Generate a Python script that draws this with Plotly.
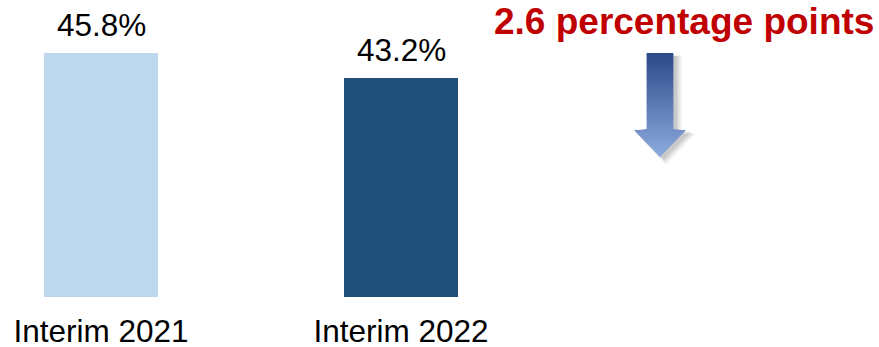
import plotly.graph_objects as go

# Data
categories = ["Interim 2021", "Interim 2022"]
values = [45.8, 43.2]
value_labels = ["45.8%", "43.2%"]
bar_colors = ["#BDD7EE", "#1F4E79"]
change_text = "2.6 percentage points"

FONT = "Liberation Sans, Arial, sans-serif"
W, H = 879, 347
M_B = 50
PLOT_H = H - M_B


def px(x):
    """Pixel x -> paper x."""
    return x / W


def py(y):
    """Pixel y (from top) -> paper y."""
    return (PLOT_H - y) / PLOT_H


fig = go.Figure(
    go.Bar(
        x=categories,
        y=values,
        marker=dict(color=bar_colors, line=dict(width=0)),
        width=0.38,
        hoverinfo="skip",
    )
)

# Value labels above the bars
annotations = []
for cat, val, lab in zip(categories, values, value_labels):
    annotations.append(dict(
        x=cat, y=val, xref="x", yref="y", text=lab, showarrow=False,
        yanchor="bottom", yshift=8,
        font=dict(family=FONT, size=31.5, color="#000000"),
    ))

# Change callout text
annotations.append(dict(
    x=px(684), y=py(0), xref="paper", yref="paper", text="<b>%s</b>" % change_text,
    showarrow=False, xanchor="center", yanchor="top", borderpad=0,
    font=dict(family=FONT, size=37, color="#C00000"),
))

# Down arrow with vertical gradient and soft shadow
cx = 660.0
top, neck, tip = 53.0, 129.0, 157.0
shaft_hw, head_hw = 13.3, 27.0


def arrow_path(dx=0.0, dy=0.0, grow=0.0):
    pts = [
        (cx - shaft_hw - grow, top - grow), (cx + shaft_hw + grow, top - grow),
        (cx + shaft_hw + grow, neck), (cx + head_hw + grow, neck),
        (cx, tip + grow), (cx - head_hw - grow, neck),
        (cx - shaft_hw - grow, neck),
    ]
    d = "M " + " L ".join("%.5f,%.5f" % (px(x + dx), py(y + dy)) for x, y in pts) + " Z"
    return d


shapes = []
for dx, dy, grow, op in [(6, 5, 2.5, 0.10), (5, 4, 1.2, 0.16), (4, 3, 0.0, 0.22)]:
    shapes.append(dict(type="path", xref="paper", yref="paper", path=arrow_path(dx, dy, grow),
                       fillcolor="#7F7F7F", opacity=op, line=dict(width=0), layer="above"))

c_top = (0x2C, 0x4A, 0x8A)
c_bot = (0x8E, 0xAB, 0xDE)


def mix(t):
    return "rgb(%d,%d,%d)" % tuple(round(a + (b - a) * t) for a, b in zip(c_top, c_bot))


def half_w(y):
    if y <= neck:
        return shaft_hw
    return head_hw * (tip - y) / (tip - neck)


# Build the arrow from thin horizontal slices so the fill can shade top to bottom
step = 1.0
y = top
while y < tip - 1e-9:
    y1 = min(y + step, tip)
    if y < neck < y1:
        y1 = neck
    y_draw = min(y1 + 0.6, tip) if y1 != neck else neck
    if y < neck:
        w0 = w1 = shaft_hw
    else:
        w0 = half_w(y)
        w1 = half_w(y_draw)
    pts = [(cx - w0, y), (cx + w0, y), (cx + w1, y_draw), (cx - w1, y_draw)]
    d = "M " + " L ".join("%.5f,%.5f" % (px(a), py(b)) for a, b in pts) + " Z"
    t = (y - top) / (tip - top)
    shapes.append(dict(type="path", xref="paper", yref="paper", path=d,
                       fillcolor=mix(t), line=dict(width=0), layer="above"))
    y = y1

fig.update_layout(
    width=W, height=H,
    margin=dict(l=0, r=0, t=0, b=M_B, pad=0, autoexpand=False),
    paper_bgcolor="#FFFFFF", plot_bgcolor="#FFFFFF",
    showlegend=False,
    bargap=0,
    xaxis=dict(
        type="category", range=[-101 / 300, (W - 101) / 300],
        showgrid=False, zeroline=False, showline=False, ticks="",
        tickfont=dict(family=FONT, size=31.5, color="#000000"),
        ticklabelstandoff=12, automargin=False,
    ),
    yaxis=dict(
        range=[45.8 - 244 / (25 / 2.6), 45.8 - 244 / (25 / 2.6) + PLOT_H / (25 / 2.6)],
        visible=False, showgrid=False, zeroline=False, automargin=False,
    ),
    annotations=annotations,
    shapes=shapes,
)

fig.write_html("out.html")
